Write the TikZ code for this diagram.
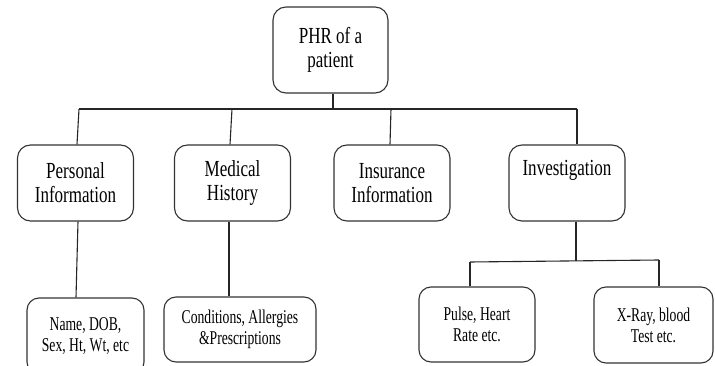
\documentclass[tikz,border=0pt]{standalone}
\usepackage{fontspec}
\setmainfont{Liberation Serif}
\newfontfamily\bigf[FakeStretch=0.74]{Liberation Serif}
\newfontfamily\smallf[FakeStretch=0.7]{Liberation Serif}
\tikzset{
  box/.style={draw=black!80, line width=1.1pt, rounded corners=13pt, align=center, inner sep=0pt, fill=white},
  topbox/.style={box, font=\bigf\fontsize{23}{24}\selectfont, minimum width=116pt, minimum height=76pt},
  lowbox/.style={box, font=\smallf\fontsize{19.5}{21}\selectfont, rounded corners=12pt},
  conn/.style={draw=black!85, line width=1.1pt}
}
\begin{document}
\begin{tikzpicture}[x=1pt,y=-1pt]
\useasboundingbox (0,0) rectangle (715,366);
\clip (0,0) rectangle (715,366);
\fill[white] (0,0) rectangle (715,366);

% top
\node[topbox, minimum width=115pt, minimum height=86pt] (phr) at (330.5,50) {PHR of a\\patient};

% second row
\node[topbox] (pers) at (75.5,183) {Personal\\Information};
\node[topbox] (med) at (232.5,183) {Medical\\History};
\node[topbox] (ins) at (392,183) {Insurance\\Information};
\node[topbox] (inv) at (567,183) {Investigation\\\strut};

% third row
\node[lowbox, minimum width=117pt, minimum height=76pt] (name) at (85.5,336) {Name, DOB,\\Sex, Ht, Wt, etc};
\node[lowbox, minimum width=152pt, minimum height=65pt] (cond) at (240,329.5) {Conditions, Allergies\\\&Prescriptions};
\node[lowbox, minimum width=116pt, minimum height=75pt] (pulse) at (477,324.5) {Pulse, Heart\\Rate etc.};
\node[lowbox, minimum width=119pt, minimum height=76pt] (xray) at (653.5,325) {X-Ray, blood\\Test etc.};

% main bus
\coordinate (busL) at (79,109);
\coordinate (busR) at (577,109);
\coordinate (bM) at (232,109);
\coordinate (bI) at (391,109);
\draw[conn] (busL) -- (busR);
\draw[conn] ([xshift=2.5pt]phr.south) -- ([xshift=2.5pt]phr.south |- busL);
\draw[conn] (busL) -- ([xshift=1.5pt]pers.north);
\draw[conn] (bM) -- ([xshift=-2.5pt]med.north);
\draw[conn] (bI) -- ([xshift=-2pt]ins.north);
\draw[conn] (busR) -- (busR |- inv.north);

% lower connectors
\draw[conn] ([xshift=2.5pt]pers.south) -- ([xshift=-9.5pt]name.north);
\draw[conn] ([xshift=-3.5pt]med.south) -- ([xshift=-11pt]cond.north);

% investigation sub-bus
\coordinate (sbM) at (576,261);
\coordinate (sbL) at (470,262);
\coordinate (sbR) at (659,260);
\draw[conn] ([xshift=9pt]inv.south) -- (sbM);
\draw[conn] (sbL) -- (sbR);
\draw[conn] (sbL) -- (sbL |- pulse.north);
\draw[conn] (sbR) -- (sbR |- xray.north);
\end{tikzpicture}
\end{document}
